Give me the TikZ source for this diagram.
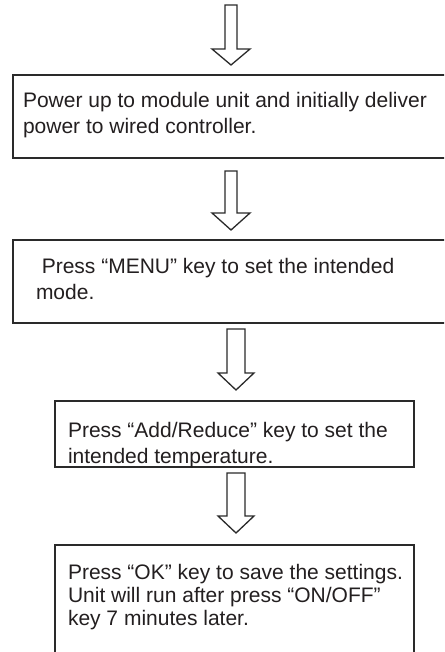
\documentclass[tikz,border=0pt]{standalone}
\usepackage{fontspec}
\setmainfont{Liberation Sans}
\usetikzlibrary{calc}
\definecolor{ink}{HTML}{231F20}
\definecolor{frame}{HTML}{2A2A2A}
\tikzset{
  boxst/.style={draw=frame, line width=1.8pt, rectangle, inner sep=0pt, outer sep=0pt, anchor=north west},
  txtst/.style={text=ink, inner sep=0pt, outer sep=0pt, anchor=north west, align=left},
  arrowline/.style={draw=frame, line width=1.3pt, line join=miter, fill=white}
}
\newcommand\hollowarrow[5]{%
  \draw[arrowline] let \p1=(#1), \p2=(#2) in
    (\x2-#3pt,\y1) -- (\x2-#3pt,\y2+#5pt) -- (\x2-#4pt,\y2+#5pt) -- (\x2,\y2)
    -- (\x2+#4pt,\y2+#5pt) -- (\x2+#3pt,\y2+#5pt) -- (\x2+#3pt,\y1) -- cycle;}
\begin{document}
\begin{tikzpicture}[x=1pt,y=-1pt]
\useasboundingbox (0,0) rectangle (444,652);
\clip (0,0) rectangle (444,652);
\fill[white] (0,0) rectangle (444,652);

% boxes
\node[boxst, minimum width=447pt, minimum height=83pt] (b1) at (13,75) {};
\node[boxst, minimum width=447pt, minimum height=83pt] (b2) at (13,240) {};
\node[boxst, minimum width=359pt, minimum height=66pt] (b3) at (55,401) {};
\node[boxst, minimum width=359pt, minimum height=135pt] (b4) at (55,545) {};

% texts
\node[txtst, font=\fontsize{21}{26}\selectfont] (t1) at ($(b1.north west)+(10,17)$)
  {\rule{0pt}{16pt}Power up to module unit and initially deliver\\power to wired controller.};
\node[txtst, font=\fontsize{21}{26}\selectfont] (t2) at ($(b2.north west)+(23,17)$)
  {\rule{0pt}{16pt}\hspace*{5.8pt}Press “MENU” key to set the intended\\mode.};
\node[txtst, font=\fontsize{21}{26}\selectfont] (t3) at ($(b3.north west)+(13,20)$)
  {\rule{0pt}{16pt}Press “Add/Reduce” key to set the\\intended temperature.};
\node[txtst, font=\fontsize{21}{23}\selectfont] (t4) at ($(b4.north west)+(13,18)$)
  {\rule{0pt}{16pt}Press “OK” key to save the settings.\\Unit will run after press “ON/OFF”\\key 7 minutes later.};

% arrow end points
\coordinate (s1) at (231,5);
\path (b1.north west -| s1) ++(0,-10) coordinate (e1);
\path (b1.south west -| s1) ++(0,13) coordinate (s2);
\path (b2.north west -| s2) ++(0,-10) coordinate (e2);
\coordinate (ax3) at (236,0);
\path (b2.south west -| ax3) ++(0,6) coordinate (s3);
\path (b3.north west -| s3) ++(0,-11) coordinate (e3);
\path (b3.south west -| s3) ++(0,6) coordinate (s4);
\path (b4.north west -| s4) ++(0,-12) coordinate (e4);

\hollowarrow{s1}{e1}{6}{19}{16}
\hollowarrow{s2}{e2}{6}{19}{17}
\hollowarrow{s3}{e3}{9}{18}{17}
\hollowarrow{s4}{e4}{9}{18}{17}
\end{tikzpicture}
\end{document}
